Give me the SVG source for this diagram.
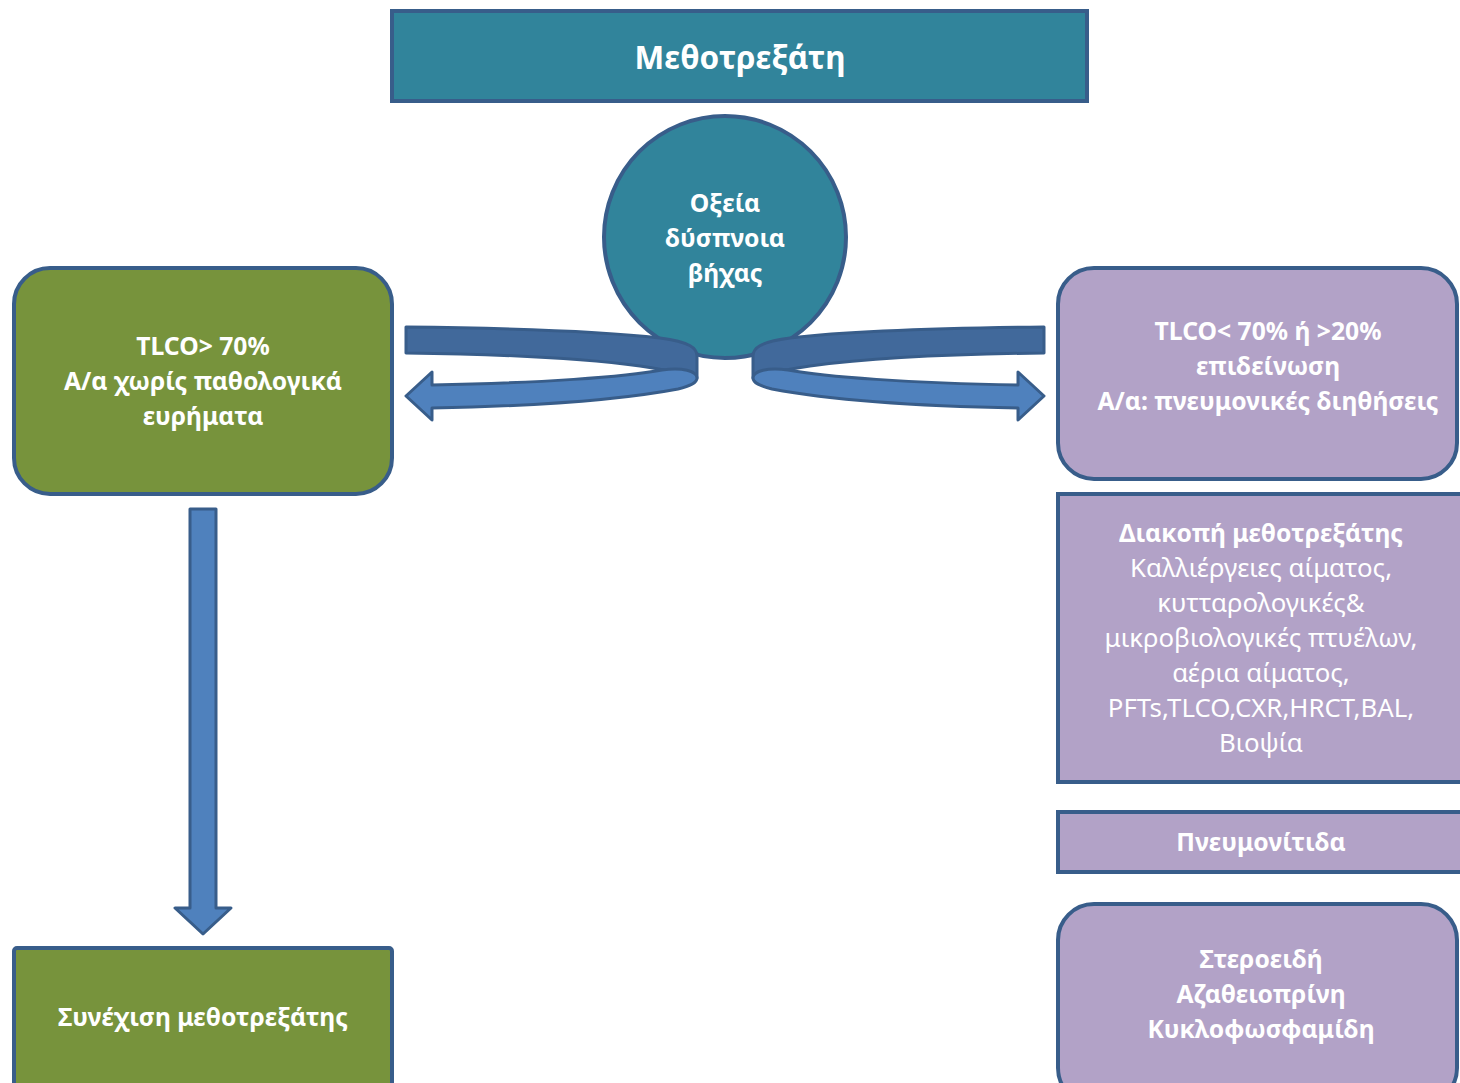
<svg xmlns="http://www.w3.org/2000/svg" width="1460" height="1083" viewBox="0 0 1460 1083">
<style>
.box{stroke:#385d8a;stroke-width:4}
.teal{fill:#31849b}
.green{fill:#77933c}
.purple{fill:#b2a2c7}
text{font-family:"Noto Sans","Open Sans","DejaVu Sans",sans-serif;fill:#ffffff;text-anchor:middle;font-size:25.8px}
.b{font-weight:bold;font-size:24.7px}
.t{font-weight:bold;font-size:31.5px}
.back{fill:#41699b;stroke:#385d8a;stroke-width:3;stroke-linejoin:round}
.front{fill:#4f81bd;stroke:#385d8a;stroke-width:3;stroke-linejoin:round}
</style>
<rect width="1460" height="1083" fill="#ffffff"/>
<g id="title">
<rect class="box teal" x="392" y="11" width="695" height="90"/>
<text class="t" x="740" y="69">Μεθοτρεξάτη</text>
</g>
<g id="symptoms">
<circle class="box teal" cx="725" cy="237" r="121"/>
<text class="b" x="725" y="212">Οξεία</text>
<text class="b" x="725" y="247">δύσπνοια</text>
<text class="b" x="725" y="282">βήχας</text>
</g>
<g id="normal">
<rect class="box green" x="14" y="268" width="378" height="226" rx="36"/>
<text class="b" x="203" y="355">TLCO&gt; 70%</text>
<text class="b" x="203" y="390">Α/α χωρίς παθολογικά</text>
<text class="b" x="203" y="425">ευρήματα</text>
</g>
<g id="continue">
<rect class="box green" x="14" y="948" width="378" height="150" rx="3"/>
<text class="b" x="203" y="1026">Συνέχιση μεθοτρεξάτης</text>
</g>
<g id="abnormal">
<rect class="box purple" x="1058" y="268" width="399" height="211" rx="36"/>
<text class="b" x="1268" y="340">TLCO&lt; 70% ή &gt;20%</text>
<text class="b" x="1268" y="375">επιδείνωση</text>
<text class="b" x="1268" y="410"> Α/α: πνευμονικές διηθήσεις</text>
</g>
<g id="workup">
<rect class="box purple" x="1058" y="494" width="420" height="288"/>
<text class="b" x="1261" y="542">Διακοπή μεθοτρεξάτης</text>
<text x="1261" y="577">Καλλιέργειες αίματος,</text>
<text x="1261" y="612">κυτταρολογικές&amp;</text>
<text x="1261" y="647">μικροβιολογικές πτυέλων,</text>
<text x="1261" y="682">αέρια αίματος,</text>
<text x="1261" y="717">PFTs,TLCO,CXR,HRCT,BAL,</text>
<text x="1261" y="752">Βιοψία</text>
</g>
<g id="pneumonitis">
<rect class="box purple" x="1058" y="812" width="420" height="60"/>
<text class="b" x="1261" y="851">Πνευμονίτιδα</text>
</g>
<g id="treatment">
<rect class="box purple" x="1058" y="904" width="399" height="200" rx="36"/>
<text class="b" x="1261" y="968">Στεροειδή</text>
<text class="b" x="1261" y="1003">Αζαθειοπρίνη</text>
<text class="b" x="1261" y="1038">Κυκλοφωσφαμίδη</text>
</g>
<g id="connectors">
<g id="curved-left">
<path class="back" d="M406,327 C 500,328 600,331 660,338 C 690,342 697,348 697,356 L 697,378 C 680,372 660,369 640,366 C 580,358 500,354 406,353 Z"/>
<path class="front" d="M432,385 C 540,383 625,377 662,370 C 682,367 697,371 697,378 C 697,383 690,386 678,389 C 620,400 540,406 432,408 L 432,420 L 406,396 L 432,372 Z"/>
</g>
<g id="curved-right" transform="translate(1450,0) scale(-1,1)">
<path class="back" d="M406,327 C 500,328 600,331 660,338 C 690,342 697,348 697,356 L 697,378 C 680,372 660,369 640,366 C 580,358 500,354 406,353 Z"/>
<path class="front" d="M432,385 C 540,383 625,377 662,370 C 682,367 697,371 697,378 C 697,383 690,386 678,389 C 620,400 540,406 432,408 L 432,420 L 406,396 L 432,372 Z"/>
</g>
<path id="down-arrow" class="front" d="M190,509 L216,509 L216,908 L231,908 L203,934 L175,908 L190,908 Z"/>
</g>
</svg>
